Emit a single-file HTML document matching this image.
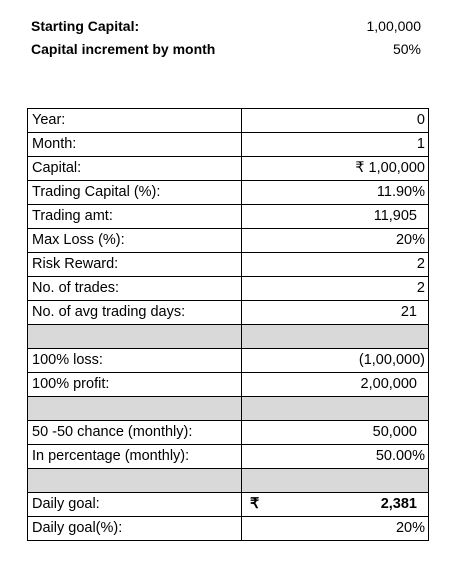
<!DOCTYPE html>
<html><head><meta charset="utf-8"><style>
body{margin:0;width:459px;height:562px;background:#fff;font-family:"Liberation Sans",sans-serif;font-size:14px;color:#000;position:relative;overflow:hidden}
.h{position:absolute;font-weight:bold;font-size:14px}
.hv{position:absolute;right:38px;font-size:14px}
table{position:absolute;left:27px;top:108px;border-collapse:collapse;table-layout:fixed;width:401px}
td{border:1px solid #000;height:23px;padding:0 3px 0 4px;line-height:23px;white-space:nowrap;font-size:14.5px;overflow:hidden}
td.v{text-align:right}
td.p{padding-right:11px}
tr.g td{background:#d9d9d9}
</style></head><body>
<div class="h" style="left:31px;top:18px">Starting Capital:</div>
<div class="hv" style="top:18px">1,00,000</div>
<div class="h" style="left:31px;top:41px">Capital increment by month</div>
<div class="hv" style="top:41px">50%</div>
<table>
<colgroup><col style="width:214px"><col style="width:187px"></colgroup>
<tr><td class="l">Year:</td><td class="v">0</td></tr>
<tr><td class="l">Month:</td><td class="v">1</td></tr>
<tr><td class="l">Capital:</td><td class="v">₹ 1,00,000</td></tr>
<tr><td class="l">Trading Capital (%):</td><td class="v">11.90%</td></tr>
<tr><td class="l">Trading amt:</td><td class="v p">11,905</td></tr>
<tr><td class="l">Max Loss (%):</td><td class="v">20%</td></tr>
<tr><td class="l">Risk Reward:</td><td class="v">2</td></tr>
<tr><td class="l">No. of trades:</td><td class="v">2</td></tr>
<tr><td class="l">No. of avg trading days:</td><td class="v p">21</td></tr>
<tr class="g"><td class="l"></td><td class="v"></td></tr>
<tr><td class="l">100% loss:</td><td class="v">(1,00,000)</td></tr>
<tr><td class="l">100% profit:</td><td class="v p">2,00,000</td></tr>
<tr class="g"><td class="l"></td><td class="v"></td></tr>
<tr><td class="l">50 -50 chance (monthly):</td><td class="v p">50,000</td></tr>
<tr><td class="l">In percentage (monthly):</td><td class="v">50.00%</td></tr>
<tr class="g"><td class="l"></td><td class="v"></td></tr>
<tr><td class="l">Daily goal:</td><td class="v p" style="font-weight:bold"><span style="float:left;padding-left:4px">₹</span>2,381</td></tr>
<tr><td class="l">Daily goal(%):</td><td class="v">20%</td></tr>
</table>
</body></html>
